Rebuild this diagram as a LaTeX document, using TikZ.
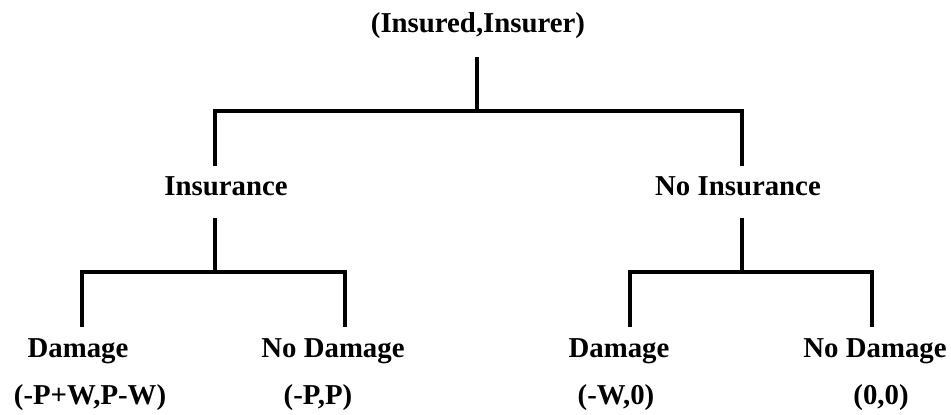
\documentclass[tikz,border=0pt]{standalone}
\usepackage{fontspec}
\setmainfont{Liberation Serif}
\begin{document}
\begin{tikzpicture}[x=1pt,y=-1pt,
  lbl/.style={anchor=base,inner sep=0pt,font=\fontsize{28.8}{34}\selectfont\bfseries},
  branch/.style={line width=4.2pt,line cap=butt,line join=miter}]
\useasboundingbox (0,0) rectangle (951,415);

% labels
\node[lbl] (root) at (478,32) {(Insured,Insurer)};
\node[lbl] (ins)  at (226,195) {Insurance};
\node[lbl] (noins) at (738,195) {No Insurance};
\node[lbl] (d1) at (78,357) {Damage};
\node[lbl] (n1) at (333,357) {No Damage};
\node[lbl] (d2) at (619,357) {Damage};
\node[lbl] (n2) at (875,357) {No Damage};
\node[lbl] (p1) at (90,404) {(-P+W,P-W)};
\node[lbl] (p2) at (318,404) {(-P,P)};
\node[lbl] (p3) at (616,404) {(-W,0)};
\node[lbl] (p4) at (881,404) {(0,0)};

% branch points
\coordinate (s0) at (477,57);
\coordinate (f0) at (477,111);
\coordinate (a0) at (215,166);
\coordinate (b0) at (742,166);

\coordinate (s1) at (215,218);
\coordinate (f1) at (215,272);
\coordinate (a1) at (82,327);
\coordinate (b1) at (345,327);

\coordinate (s2) at (742,218);
\coordinate (f2) at (742,272);
\coordinate (a2) at (630,327);
\coordinate (b2) at (872,327);

% first move
\draw[branch] (s0) -- (f0);
\draw[branch] (a0) |- (f0) -| (b0);

% nature after insurance
\draw[branch] (s1) -- (f1);
\draw[branch] (a1) |- (f1) -| (b1);

% nature after no insurance
\draw[branch] (s2) -- (f2);
\draw[branch] (a2) |- (f2) -| (b2);
\end{tikzpicture}
\end{document}
